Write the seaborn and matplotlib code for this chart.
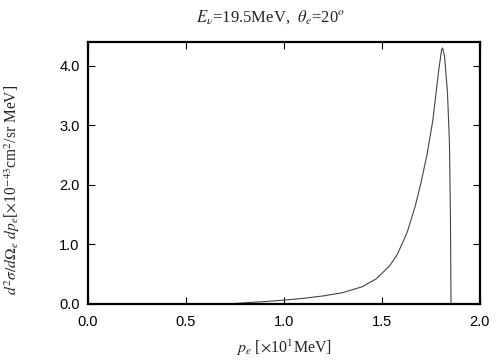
import numpy as np
import pandas as pd
import matplotlib
matplotlib.use('Agg')
import matplotlib.pyplot as plt
import seaborn as sns

# electron momentum [x10 MeV] and cross section [x1e-43 cm^2/sr MeV]
p_e = [0.72, 0.80, 0.90, 1.00, 1.10, 1.20, 1.30, 1.40, 1.47, 1.54, 1.58,
       1.63, 1.67, 1.70, 1.73, 1.76, 1.79, 1.805, 1.81, 1.82, 1.835, 1.845,
       1.85, 1.853]
xsec = [0.0, 0.02, 0.04, 0.065, 0.095, 0.135, 0.19, 0.29, 0.42, 0.64, 0.84,
        1.21, 1.64, 2.04, 2.50, 3.08, 3.92, 4.27, 4.30, 4.16, 3.55, 2.70,
        1.50, 0.0]

df = pd.DataFrame({'p': p_e, 'xs': xsec})

sns.set_style('ticks')
plt.rcParams['font.family'] = ['Liberation Sans', 'DejaVu Sans']
plt.rcParams['mathtext.fontset'] = 'stix'
plt.rcParams['axes.linewidth'] = 1.6

fig = plt.figure(figsize=(5.04, 3.6), dpi=100)
ax = fig.add_axes([0.1746, 0.1556, 0.7774, 0.7277])

sns.lineplot(data=df, x='p', y='xs', ax=ax, color='#444444', linewidth=0.8,
             estimator=None, sort=False)

ax.set_xlim(0, 2.0)
ax.set_ylim(0, 4.4)
ax.set_xticks([0.0, 0.5, 1.0, 1.5, 2.0])
ax.set_yticks([0.0, 1.0, 2.0, 3.0, 4.0])
ax.set_xticklabels(['0.0', '0.5', '1.0', '1.5', '2.0'])
ax.set_yticklabels(['0.0', '1.0', '2.0', '3.0', '4.0'])
ax.tick_params(direction='in', length=5, width=0.8, top=True, right=True,
               labelsize=10.5, colors='black')
ax.tick_params(axis='x', pad=8)
ax.tick_params(axis='y', pad=6)
for s in ax.spines.values():
    s.set_visible(True)
    s.set_color('black')

serif = {'family': 'Liberation Serif', 'size': 11.5}
ax.set_title(r'$E_{\nu}$=19.5MeV,  $\theta_e$=20$^o$',
             fontdict={'family': 'Liberation Serif', 'size': 12}, x=0.467, pad=15)
ax.set_xlabel(r'$p_e$ [$\times$10$^1$MeV]', fontdict=serif, labelpad=6)
ax.set_ylabel(r'$d^2\sigma/d\Omega_e\ dp_e$[$\times$10$^{-43}$cm$^2$/sr MeV]',
              fontdict={'family': 'Liberation Serif', 'size': 11.2})
ax.yaxis.set_label_coords(-0.168, 0.435)

fig.savefig('out.png', dpi=100)
